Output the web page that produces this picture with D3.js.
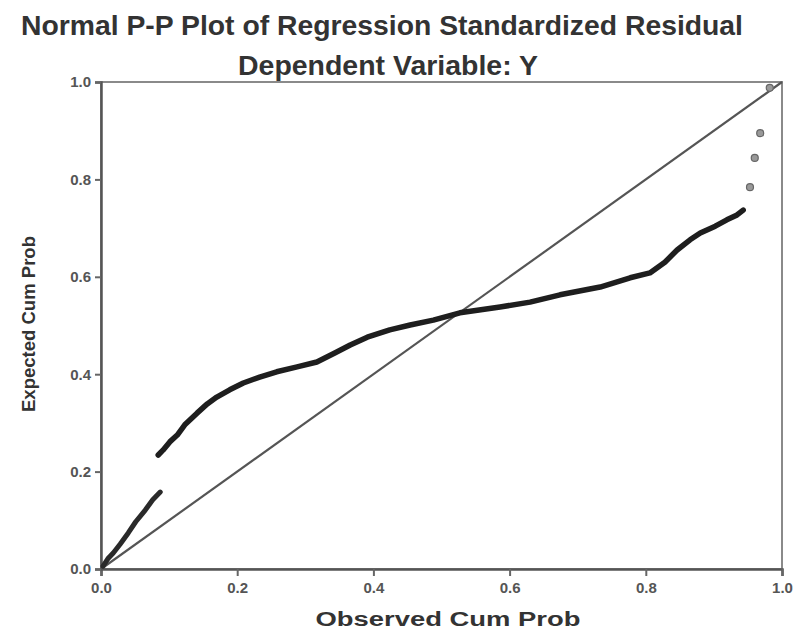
<!DOCTYPE html>
<html>
<head>
<meta charset="utf-8">
<script src="https://cdn.jsdelivr.net/npm/d3@7"></script>
<style>
  html, body { margin: 0; padding: 0; background: #fff; }
  svg { display: block; font-family: "Liberation Sans", Arial, sans-serif; }
</style>
</head>
<body>
<svg id="chart" width="804" height="630"></svg>
<script>
// Observed vs expected cumulative probabilities of the standardized residuals
const lowerObserved = [0.003, 0.010, 0.018, 0.028, 0.040, 0.051, 0.065, 0.076, 0.087];
const lowerExpected = [0.006, 0.021, 0.033, 0.051, 0.074, 0.097, 0.121, 0.142, 0.158];

const upperObserved = [0.084, 0.091, 0.101, 0.112, 0.123, 0.141, 0.156, 0.170, 0.189, 0.209,
                       0.233, 0.258, 0.288, 0.317, 0.344, 0.366, 0.391, 0.424, 0.454, 0.488,
                       0.527, 0.586, 0.630, 0.674, 0.733, 0.777, 0.806, 0.828, 0.846, 0.865,
                       0.880, 0.902, 0.919, 0.934, 0.943];
const upperExpected = [0.234, 0.244, 0.261, 0.275, 0.296, 0.320, 0.339, 0.353, 0.368, 0.382,
                       0.394, 0.405, 0.415, 0.425, 0.444, 0.460, 0.476, 0.491, 0.501, 0.511,
                       0.526, 0.538, 0.548, 0.563, 0.579, 0.598, 0.608, 0.630, 0.655, 0.676,
                       0.690, 0.704, 0.717, 0.727, 0.737];

const tailObserved = [0.953, 0.960, 0.968, 0.982];
const tailExpected = [0.784, 0.844, 0.895, 0.988];

const tickValues = [0.0, 0.2, 0.4, 0.6, 0.8, 1.0];
const tickLabels = ["0.0", "0.2", "0.4", "0.6", "0.8", "1.0"];

const titleText = "Normal P-P Plot of Regression Standardized Residual";
const subtitleText = "Dependent Variable: Y";
const xTitle = "Observed Cum Prob";
const yTitle = "Expected Cum Prob";

const svg = d3.select("#chart");
const plot = { left: 101, right: 782, top: 82, bottom: 569 };

const x = d3.scaleLinear().domain([0, 1]).range([plot.left, plot.right]);
const y = d3.scaleLinear().domain([0, 1]).range([plot.bottom, plot.top]);

// Titles
svg.append("text")
  .attr("x", 382).attr("y", 35)
  .attr("text-anchor", "middle")
  .attr("font-size", 28).attr("font-weight", "bold").attr("fill", "#333")
  .attr("textLength", 722).attr("lengthAdjust", "spacingAndGlyphs")
  .text(titleText);

svg.append("text")
  .attr("x", 388).attr("y", 75)
  .attr("text-anchor", "middle")
  .attr("font-size", 28).attr("font-weight", "bold").attr("fill", "#333")
  .attr("textLength", 300).attr("lengthAdjust", "spacingAndGlyphs")
  .text(subtitleText);

// Frame
svg.append("rect")
  .attr("x", plot.left).attr("y", plot.top)
  .attr("width", plot.right - plot.left).attr("height", plot.bottom - plot.top)
  .attr("fill", "none").attr("stroke", "#8a8a8a").attr("stroke-width", 2);

// Axes
const xAxis = d3.axisBottom(x).tickValues(tickValues)
  .tickFormat((d, i) => tickLabels[i]).tickSizeOuter(0).tickSize(7).tickPadding(6);
const yAxis = d3.axisLeft(y).tickValues(tickValues)
  .tickFormat((d, i) => tickLabels[i]).tickSizeOuter(0).tickSize(6).tickPadding(4);

const gx = svg.append("g").attr("transform", `translate(0,${plot.bottom})`).call(xAxis);
const gy = svg.append("g").attr("transform", `translate(${plot.left},0)`).call(yAxis);

[gx, gy].forEach(g => {
  g.select(".domain").attr("stroke", "#555").attr("stroke-width", 2.5);
  g.selectAll(".tick line").attr("stroke", "#666").attr("stroke-width", 2);
  g.selectAll(".tick text")
    .attr("font-size", 15).attr("font-weight", "bold").attr("fill", "#555")
    .attr("font-family", "Liberation Sans, Arial, sans-serif");
});

// Axis titles
svg.append("text")
  .attr("x", 448).attr("y", 626)
  .attr("text-anchor", "middle")
  .attr("font-size", 20).attr("font-weight", "bold").attr("fill", "#333")
  .attr("textLength", 265).attr("lengthAdjust", "spacingAndGlyphs")
  .text(xTitle);

svg.append("text")
  .attr("transform", "translate(35,324) rotate(-90)")
  .attr("text-anchor", "middle")
  .attr("font-size", 19).attr("font-weight", "bold").attr("fill", "#333")
  .attr("textLength", 176).attr("lengthAdjust", "spacingAndGlyphs")
  .text(yTitle);

// Reference diagonal
svg.append("line")
  .attr("x1", x(0)).attr("y1", y(0))
  .attr("x2", x(1)).attr("y2", y(1))
  .attr("stroke", "#555").attr("stroke-width", 2.2);

// Residual points, dense enough to read as a continuous band
const line = d3.line().x(d => x(d[0])).y(d => y(d[1]));
const lower = d3.zip(lowerObserved, lowerExpected);
const upper = d3.zip(upperObserved, upperExpected);

svg.append("path").datum(lower)
  .attr("d", line).attr("fill", "none")
  .attr("stroke", "#2a2a2a").attr("stroke-width", 5)
  .attr("stroke-linecap", "round").attr("stroke-linejoin", "round");

svg.append("path").datum(upper)
  .attr("d", line).attr("fill", "none")
  .attr("stroke", "#1e1e1e").attr("stroke-width", 5.5)
  .attr("stroke-linecap", "round").attr("stroke-linejoin", "round");

svg.selectAll("circle.tail")
  .data(d3.zip(tailObserved, tailExpected))
  .join("circle")
  .attr("class", "tail")
  .attr("cx", d => x(d[0])).attr("cy", d => y(d[1]))
  .attr("r", 3.5)
  .attr("fill", "#999").attr("stroke", "#666").attr("stroke-width", 1.2);
</script>
</body>
</html>
